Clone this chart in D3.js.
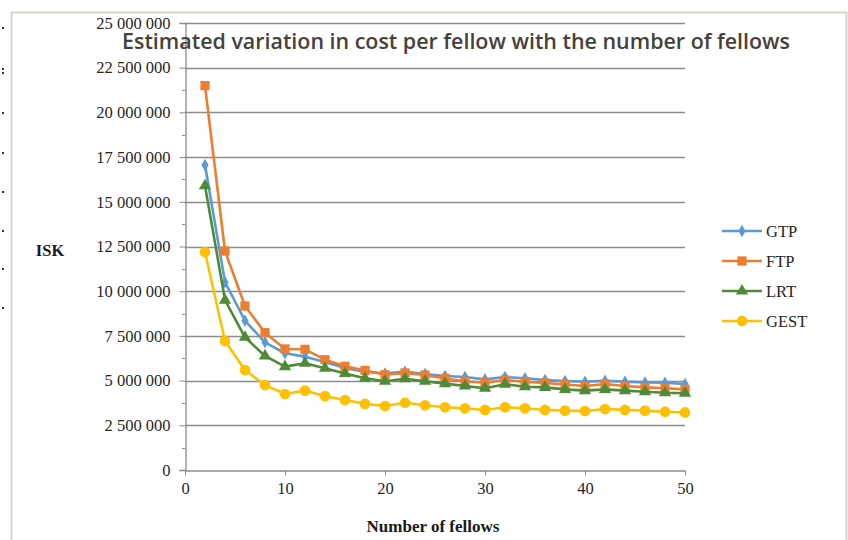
<!DOCTYPE html>
<meta charset="utf-8">
<script src="https://d3js.org/d3.v7.min.js"></script>
<style>
    body { margin: 0; background: #fff; }
    .tick text { font-family: "Liberation Serif", "Times New Roman", serif; font-size: 16.5px; fill: #262626; }
    .axis path, .axis line { stroke: #8c8c8c; }
</style>
<div id="chart"></div>
<script>
    // number of fellows
    var fellows = [2, 4, 6, 8, 10, 12, 14, 16, 18, 20, 22, 24, 26, 28, 30, 32, 34, 36, 38, 40, 42, 44, 46, 48, 50];
    // cost per fellow (ISK)
    var gtp = [17060000, 10500000, 8350000, 7140000, 6530000, 6340000, 6040000, 5700000, 5500000, 5400000, 5500000, 5370000, 5260000, 5200000, 5070000, 5200000, 5130000, 5030000, 4980000, 4940000, 4990000, 4940000, 4900000, 4880000, 4810000];
    var ftp = [21500000, 12250000, 9170000, 7680000, 6770000, 6750000, 6170000, 5800000, 5570000, 5330000, 5430000, 5310000, 5120000, 4960000, 4880000, 5030000, 4940000, 4870000, 4780000, 4700000, 4810000, 4700000, 4620000, 4570000, 4510000];
    var lrt = [15900000, 9500000, 7420000, 6380000, 5780000, 5970000, 5690000, 5400000, 5130000, 4960000, 5100000, 4960000, 4830000, 4700000, 4570000, 4800000, 4660000, 4620000, 4510000, 4440000, 4510000, 4440000, 4380000, 4320000, 4290000];
    var gest = [12190000, 7210000, 5590000, 4750000, 4250000, 4440000, 4130000, 3910000, 3700000, 3580000, 3760000, 3620000, 3510000, 3450000, 3360000, 3510000, 3450000, 3360000, 3320000, 3300000, 3410000, 3360000, 3320000, 3260000, 3220000];
    var seriesNames = ["GTP", "FTP", "LRT", "GEST"];
    var yTicks = [0, 2500000, 5000000, 7500000, 10000000, 12500000, 15000000, 17500000, 20000000, 22500000, 25000000];
    var xTicks = [0, 10, 20, 30, 40, 50];

    var width = 848, height = 540;
    var plot = { left: 185, right: 685, top: 23, bottom: 470 };

    var svg = d3.select("#chart").append("svg")
        .attr("width", width)
        .attr("height", height);

    // page frame
    svg.append("path")
        .attr("d", "M11.5,545 V12.5 H846.5 V545")
        .attr("fill", "none")
        .attr("stroke", "#d8d5ca")
        .attr("stroke-width", 2);

    // stray marks at left edge
    [27, 68, 72, 112, 152, 191, 230, 268, 307].forEach(function(y) {
        svg.append("rect").attr("x", 2).attr("y", y).attr("width", 2).attr("height", 2).attr("fill", "#333");
    });

    var x = d3.scaleLinear().domain([0, 50]).range([plot.left, plot.right]);
    var y = d3.scaleLinear().domain([0, 25000000]).range([plot.bottom, plot.top]);

    var fmt = function(v) { return d3.format(",")(v).replace(/,/g, " "); };

    // gridlines
    svg.append("g")
        .selectAll("line")
        .data(yTicks.slice(1))
        .enter()
        .append("line")
        .attr("x1", plot.left)
        .attr("x2", plot.right)
        .attr("y1", function(d) { return Math.round(y(d)) + 0.5; })
        .attr("y2", function(d) { return Math.round(y(d)) + 0.5; })
        .attr("stroke", "#8c8c8c")
        .attr("stroke-width", 1.3);

    // minor y ticks
    svg.append("g")
        .selectAll("line")
        .data(yTicks.slice(1).map(function(d) { return d - 1250000; }))
        .enter()
        .append("line")
        .attr("x1", plot.left - 3)
        .attr("x2", plot.left)
        .attr("y1", function(d) { return Math.round(y(d)) + 0.5; })
        .attr("y2", function(d) { return Math.round(y(d)) + 0.5; })
        .attr("stroke", "#8c8c8c");

    // Y axis
    svg.append("g")
        .attr("class", "axis")
        .attr("transform", "translate(" + (plot.left + 0.5) + ",0)")
        .call(d3.axisLeft(y).tickValues(yTicks).tickFormat(fmt).tickSize(6).tickPadding(9))
        .call(function(g) { g.select(".domain").attr("stroke-width", 1.3); });

    // X axis
    svg.append("g")
        .attr("class", "axis")
        .attr("transform", "translate(0," + (plot.bottom + 0.5) + ")")
        .call(d3.axisBottom(x).tickValues(xTicks).tickSize(5).tickSizeOuter(0).tickPadding(7))
        .call(function(g) { g.select(".domain").attr("stroke-width", 1.3); });

    // series
    var series = [
        { name: "GTP", values: gtp, color: "#5b9bd5", shape: d3.symbolDiamond, size: 45 },
        { name: "FTP", values: ftp, color: "#ed7d31", shape: d3.symbolSquare, size: 85 },
        { name: "LRT", values: lrt, color: "#4f8b36", shape: d3.symbolTriangle, size: 65 },
        { name: "GEST", values: gest, color: "#ffc000", shape: d3.symbolCircle, size: 90 }
    ];

    var line = d3.line()
        .x(function(d, i) { return x(fellows[i]); })
        .y(function(d) { return y(d); });

    series.forEach(function(s) {
        var g = svg.append("g");
        g.append("path")
            .attr("d", line(s.values))
            .attr("fill", "none")
            .attr("stroke", s.color)
            .attr("stroke-width", 2.6)
            .attr("stroke-linejoin", "round");
        g.selectAll("path.marker")
            .data(s.values)
            .enter()
            .append("path")
            .attr("class", "marker")
            .attr("d", d3.symbol().type(s.shape).size(s.size))
            .attr("transform", function(d, i) { return "translate(" + x(fellows[i]) + "," + y(d) + ")"; })
            .attr("fill", s.color);
    });

    // legend
    var legend = svg.append("g").attr("transform", "translate(722,231)");
    series.forEach(function(s, i) {
        var row = legend.append("g").attr("transform", "translate(0," + (i * 30) + ")");
        row.append("line")
            .attr("x1", 0).attr("x2", 40)
            .attr("stroke", s.color).attr("stroke-width", 2.6);
        row.append("path")
            .attr("d", d3.symbol().type(s.shape).size(s.size))
            .attr("transform", "translate(20,0)")
            .attr("fill", s.color);
        row.append("text")
            .attr("x", 44)
            .attr("y", 6)
            .style("font-family", "Liberation Serif, serif")
            .style("font-size", "16.5px")
            .style("fill", "#262626")
            .text(seriesNames[i]);
    });

    // axis titles
    svg.append("text")
        .attr("x", 50)
        .attr("y", 256)
        .attr("text-anchor", "middle")
        .style("font-family", "Liberation Serif, serif")
        .style("font-weight", "bold")
        .style("font-size", "16.5px")
        .style("fill", "#1a1a1a")
        .text("ISK");

    svg.append("text")
        .attr("x", 433)
        .attr("y", 532)
        .attr("text-anchor", "middle")
        .style("font-family", "Liberation Serif, serif")
        .style("font-weight", "bold")
        .style("font-size", "17px")
        .style("fill", "#1a1a1a")
        .text("Number of fellows");

    // title
    svg.append("text")
        .attr("x", 122)
        .attr("y", 49)
        .attr("textLength", 668)
        .attr("lengthAdjust", "spacingAndGlyphs")
        .style("font-family", "Open Sans, sans-serif")
        .style("font-weight", "600")
        .style("font-size", "22px")
        .style("fill", "#46413c")
        .text("Estimated variation in cost per fellow with the number of fellows");
</script>
